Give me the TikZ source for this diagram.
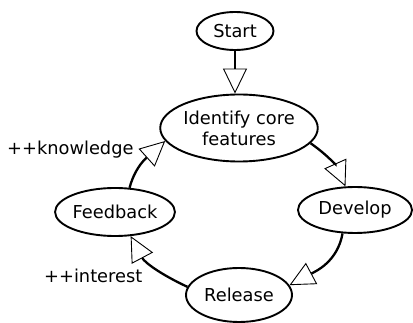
\documentclass[tikz,border=0pt]{standalone}
\usepackage{fontspec}
\setmainfont{DejaVu Sans}
\usetikzlibrary{shapes.geometric,arrows.meta}
\begin{document}
\begin{tikzpicture}[x=1pt,y=1pt,
  st/.style={ellipse, draw, line width=1.9pt, inner sep=0pt, font=\fontsize{17.8}{21}\selectfont},
  conn/.style={line width=2.3pt, -{Triangle[open, length=25pt, width=24pt, line width=0.9pt]}},
  lbl/.style={font=\fontsize{17.8}{21}\selectfont, inner sep=0pt}]
\useasboundingbox (0,0) rectangle (413,-323);
\node[st, minimum width=77pt, minimum height=38pt] (start) at (235,-31) {Start};
\node[st, minimum width=150pt, minimum height=67pt, align=center] (id) at (239,-128) {Identify core\\features};
\node[st, minimum width=114pt, minimum height=46pt] (dev) at (355,-210) {Develop};
\node[st, minimum width=114pt, minimum height=48pt] (fb) at (115,-212) {Feedback};
\node[st, minimum width=106pt, minimum height=54pt] (rel) at (239,-295) {Release};
\node[lbl, anchor=west] (k) at (7,-150) {++knowledge};
\node[lbl, anchor=west] (i) at (44,-276) {++interest};
\draw[conn] (start.south) -- (start.south |- id.north);
\draw[conn] (id.-12) to[out=-35, in=114] (dev.112);
\draw[conn] (dev.-118) to[out=-100, in=28] (rel.11);
\draw[conn] (rel.171) to[out=155, in=-62] (fb.-57);
\draw[conn] (fb.59) to[out=75, in=-138] (id.190);
\end{tikzpicture}
\end{document}
